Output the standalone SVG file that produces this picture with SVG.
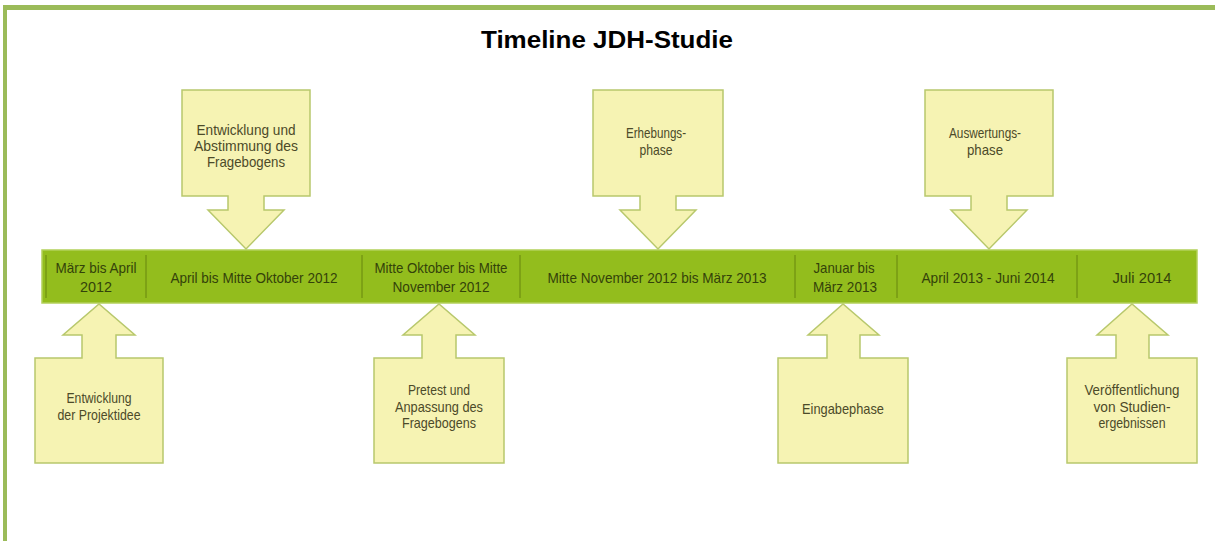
<svg xmlns="http://www.w3.org/2000/svg" width="1215" height="541" viewBox="0 0 1215 541">
<style>
.frame{fill:#9BBB59}
.bar{fill:#93BD1D;stroke:#B3D15A;stroke-width:1.5}
.div{stroke:#6F8F12;stroke-width:1.2}
.bt{font-family:"Liberation Sans",Arial,sans-serif;font-size:15px;fill:#33420A;text-anchor:middle}
.call{fill:#F6F3B3;stroke:#B8C86C;stroke-width:1.5}
.ct{font-family:"Liberation Sans",Arial,sans-serif;font-size:14.5px;fill:#4C4A29;text-anchor:middle}
.title{font-family:"Liberation Sans",Arial,sans-serif;font-size:24px;font-weight:bold;fill:#000;text-anchor:middle}
</style>
<rect x="0" y="0" width="1215" height="541" fill="#fff"/>
<rect class="frame" x="3" y="5" width="1212" height="5"/>
<rect class="frame" x="3" y="5" width="4" height="536"/>
<text class="title" x="607" y="48" textLength="252" lengthAdjust="spacingAndGlyphs">Timeline JDH-Studie</text>

<g id="timeline">
<rect class="bar" x="42" y="250" width="1155" height="53"/>
<line class="div" x1="46" y1="255" x2="46" y2="298"/>
<line class="div" x1="146" y1="255" x2="146" y2="298"/>
<line class="div" x1="362" y1="255" x2="362" y2="298"/>
<line class="div" x1="520" y1="255" x2="520" y2="298"/>
<line class="div" x1="795" y1="255" x2="795" y2="298"/>
<line class="div" x1="897" y1="255" x2="897" y2="298"/>
<line class="div" x1="1077" y1="255" x2="1077" y2="298"/>
<text class="bt" x="96" y="273" textLength="81" lengthAdjust="spacingAndGlyphs">März bis April</text>
<text class="bt" x="96" y="292" textLength="32" lengthAdjust="spacingAndGlyphs">2012</text>
<text class="bt" x="254" y="283" textLength="167" lengthAdjust="spacingAndGlyphs">April bis Mitte Oktober 2012</text>
<text class="bt" x="441" y="273" textLength="133" lengthAdjust="spacingAndGlyphs">Mitte Oktober bis Mitte</text>
<text class="bt" x="441" y="292" textLength="97" lengthAdjust="spacingAndGlyphs">November 2012</text>
<text class="bt" x="657" y="283" textLength="219" lengthAdjust="spacingAndGlyphs">Mitte November 2012 bis März 2013</text>
<text class="bt" x="844" y="273" textLength="61" lengthAdjust="spacingAndGlyphs">Januar bis</text>
<text class="bt" x="845" y="292" textLength="64" lengthAdjust="spacingAndGlyphs">März 2013</text>
<text class="bt" x="988" y="283" textLength="133" lengthAdjust="spacingAndGlyphs">April 2013 - Juni 2014</text>
<text class="bt" x="1142" y="283" textLength="59" lengthAdjust="spacingAndGlyphs">Juli 2014</text>
</g>

<g id="connectors"></g>

<g id="top1">
<path class="call" d="M182,90 H310 V196 H264 V210 H284 L246,249 L208,210 H228 V196 H182 Z"/>
<text class="ct" x="246" y="135" textLength="99" lengthAdjust="spacingAndGlyphs">Entwicklung und</text>
<text class="ct" x="246" y="151" textLength="104" lengthAdjust="spacingAndGlyphs">Abstimmung des</text>
<text class="ct" x="246" y="167" textLength="78" lengthAdjust="spacingAndGlyphs">Fragebogens</text>
</g>
<g id="top2">
<path class="call" d="M593,90 H723 V196 H676 V210 H696 L658,249 L620,210 H640 V196 H593 Z"/>
<text class="ct" x="656" y="138" textLength="60" lengthAdjust="spacingAndGlyphs">Erhebungs-</text>
<text class="ct" x="656" y="155" textLength="33" lengthAdjust="spacingAndGlyphs">phase</text>
</g>
<g id="top3">
<path class="call" d="M925,90 H1053 V196 H1007 V210 H1027 L989,249 L951,210 H971 V196 H925 Z"/>
<text class="ct" x="985" y="138" textLength="72" lengthAdjust="spacingAndGlyphs">Auswertungs-</text>
<text class="ct" x="985" y="155" textLength="36" lengthAdjust="spacingAndGlyphs">phase</text>
</g>

<g id="bottom1">
<path class="call" d="M35,463 V358 H82 V335 H63 L99,304 L135,335 H116 V358 H163 V463 Z"/>
<text class="ct" x="99" y="403" textLength="65" lengthAdjust="spacingAndGlyphs">Entwicklung</text>
<text class="ct" x="99" y="420" textLength="83" lengthAdjust="spacingAndGlyphs">der Projektidee</text>
</g>
<g id="bottom2">
<path class="call" d="M374,463 V358 H422 V335 H403 L439,304 L475,335 H456 V358 H504 V463 Z"/>
<text class="ct" x="439" y="395" textLength="62" lengthAdjust="spacingAndGlyphs">Pretest und</text>
<text class="ct" x="439" y="412" textLength="88" lengthAdjust="spacingAndGlyphs">Anpassung des</text>
<text class="ct" x="439" y="428" textLength="74" lengthAdjust="spacingAndGlyphs">Fragebogens</text>
</g>
<g id="bottom3">
<path class="call" d="M778,463 V358 H827 V335 H808 L843,304 L879,335 H860 V358 H908 V463 Z"/>
<text class="ct" x="843" y="414" textLength="82" lengthAdjust="spacingAndGlyphs">Eingabephase</text>
</g>
<g id="bottom4">
<path class="call" d="M1067,463 V358 H1116 V335 H1097 L1132,304 L1168,335 H1149 V358 H1197 V463 Z"/>
<text class="ct" x="1132" y="395" textLength="95" lengthAdjust="spacingAndGlyphs">Veröffentlichung</text>
<text class="ct" x="1132" y="412" textLength="77" lengthAdjust="spacingAndGlyphs">von Studien-</text>
<text class="ct" x="1132" y="428" textLength="67" lengthAdjust="spacingAndGlyphs">ergebnissen</text>
</g>
</svg>
